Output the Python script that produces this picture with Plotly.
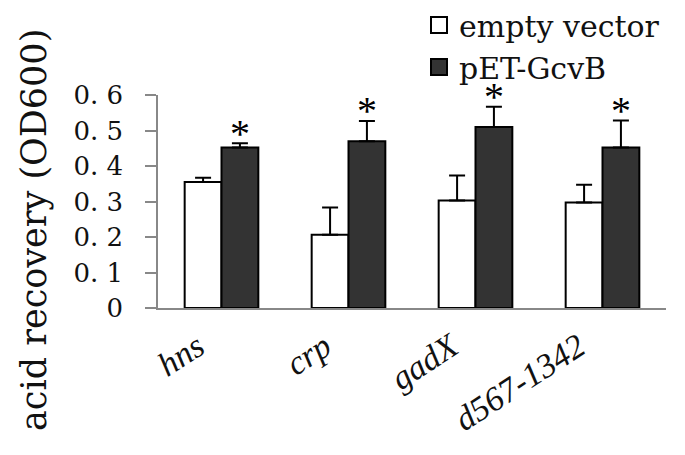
import plotly.graph_objects as go

categories = ["hns", "crp", "gadX", "d567-1342"]
empty_vector = [0.355, 0.206, 0.303, 0.297]
empty_vector_err = [0.012, 0.077, 0.070, 0.050]
pet_gcvb = [0.452, 0.470, 0.510, 0.452]
pet_gcvb_err = [0.012, 0.057, 0.057, 0.076]
significant = [True, True, True, True]
ytick_vals = [0, 0.1, 0.2, 0.3, 0.4, 0.5, 0.6]
ytick_text = ["0", "0. 1", "0. 2", "0. 3", "0. 4", "0. 5", "0. 6"]

DSERIF = "DejaVu Serif, serif"
SERIF = "Liberation Serif, serif"

# the page body adds an 8px offset, so the figure is drawn at 677x447
W, H = 677, 447
L, R, T, B = 150, 19, 87, 147
PW, PH = W - L - R, H - T - B

fig = go.Figure()
fig.add_trace(go.Bar(
    x=categories, y=empty_vector, name="empty vector", showlegend=False,
    marker=dict(color="white", line=dict(color="black", width=2)),
    error_y=dict(type="data", array=empty_vector_err, arrayminus=[0]*len(categories),
                 symmetric=False, color="black", thickness=2, width=8),
))
fig.add_trace(go.Bar(
    x=categories, y=pet_gcvb, name="pET-GcvB", showlegend=False,
    marker=dict(color="#333333", line=dict(color="black", width=2)),
    error_y=dict(type="data", array=pet_gcvb_err, arrayminus=[0]*len(categories),
                 symmetric=False, color="black", thickness=2, width=8),
))
# legend entries with large square swatches
fig.add_trace(go.Scatter(x=[None], y=[None], mode="markers", name="empty vector",
                         marker=dict(symbol="square", size=20, color="white",
                                     line=dict(color="black", width=2))))
fig.add_trace(go.Scatter(x=[None], y=[None], mode="markers", name="pET-GcvB",
                         marker=dict(symbol="square", size=20, color="#333333",
                                     line=dict(color="black", width=2))))

annotations = []
for i, (v, e, s) in enumerate(zip(pet_gcvb, pet_gcvb_err, significant)):
    if s:
        annotations.append(dict(x=i + 0.145, y=v + e, xref="x", yref="y", text="*",
                                showarrow=False, yanchor="middle", yshift=10,
                                font=dict(family=SERIF, size=40, color="black")))
annotations.append(dict(x=(26 - L) / PW, y=(H - B - 222) / PH, xref="paper", yref="paper",
                        text="acid recovery (OD600)", textangle=-90, showarrow=False,
                        xanchor="center", yanchor="middle",
                        font=dict(family=DSERIF, size=35, color="#111")))

fig.update_layout(
    width=W, height=H,
    margin=dict(l=L, r=R, t=T, b=B, autoexpand=False),
    paper_bgcolor="white", plot_bgcolor="white",
    barmode="group", bargap=0.42, bargroupgap=0,
    showlegend=True,
    legend=dict(x=(411 - L) / PW, y=(H - B + 9) / PH,
                xanchor="left", yanchor="top",
                font=dict(family=DSERIF, size=30, color="#111"),
                bgcolor="rgba(0,0,0,0)", tracegroupgap=0, itemwidth=30),
    annotations=annotations,
    xaxis=dict(showline=True, linecolor="#888", linewidth=1.5, showgrid=False,
               automargin=False,
               ticks="", tickangle=-33, ticklabelshift=-24, ticklabelstandoff=4,
               tickfont=dict(family=SERIF, size=34, color="#111", style="italic"),
               range=[-0.5, 3.5]),
    yaxis=dict(showline=True, linecolor="#888", linewidth=1.5, showgrid=False,
               automargin=False,
               zeroline=False, range=[0, 0.6], tickvals=ytick_vals, ticktext=ytick_text,
               ticks="outside", ticklen=11, tickcolor="#888", tickwidth=1.5,
               ticklabelstandoff=17,
               tickfont=dict(family=DSERIF, size=26, color="#111")),
)

fig.write_html("out.html")
